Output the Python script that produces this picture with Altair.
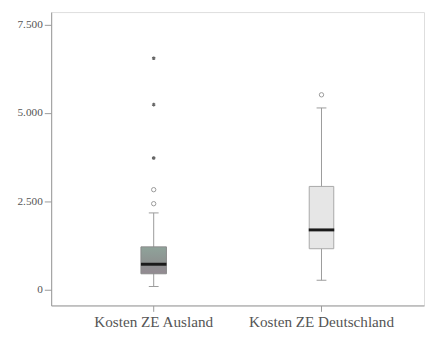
import altair as alt
import pandas as pd

categories = ["Kosten ZE Ausland", "Kosten ZE Deutschland"]
whisker_low = [83, 261]
q1 = [444, 1153]
median = [714, 1686]
q3 = [1206, 2917]
whisker_high = [2167, 5139]
outlier_cat = ["Kosten ZE Ausland", "Kosten ZE Ausland", "Kosten ZE Deutschland"]
outlier_val = [2825, 2428, 5511]
extreme_cat = ["Kosten ZE Ausland", "Kosten ZE Ausland", "Kosten ZE Ausland"]
extreme_val = [6547, 5233, 3722]
y_ticks = [0, 2500, 5000, 7500]

box = pd.DataFrame({"cat": categories, "lo": whisker_low, "q1": q1, "med": median,
                    "q3": q3, "hi": whisker_high})
out = pd.DataFrame({"cat": outlier_cat, "v": outlier_val})
ext = pd.DataFrame({"cat": extreme_cat, "v": extreme_val})

FONT = "Liberation Serif"
xs = alt.X("cat:N", sort=categories, title=None,
           scale=alt.Scale(paddingInner=0, paddingOuter=0.111),
           axis=alt.Axis(labelAngle=0, labelFontSize=15.5, labelFont=FONT, labelColor="#555",
                         tickSize=6, tickColor="#999", domainColor="#999", labelPadding=3))
ys = alt.Y("lo:Q", title=None,
           scale=alt.Scale(domain=[-453, 7853], nice=False, zero=False),
           axis=alt.Axis(values=y_ticks, grid=False, labelFontSize=11.5, labelFont=FONT,
                         labelColor="#555", tickSize=7, tickColor="#999", domainColor="#999",
                         labelPadding=2,
                         labelExpr="replace(format(datum.value, ',d'), ',', '.')"))

base = alt.Chart(box)
whisk = base.mark_rule(color="#9a9a9a", strokeWidth=1).encode(x=xs, y=ys, y2="hi:Q")
caps_lo = base.mark_tick(color="#9a9a9a", size=10, thickness=1, opacity=1).encode(x=xs, y="lo:Q")
caps_hi = base.mark_tick(color="#9a9a9a", size=10, thickness=1, opacity=1).encode(x=xs, y="hi:Q")
grad = alt.Gradient(gradient="linear", x1=0, y1=0, x2=0, y2=1,
                    stops=[alt.GradientStop(color="#8fa39a", offset=0),
                           alt.GradientStop(color="#8d9190", offset=0.6),
                           alt.GradientStop(color="#938a92", offset=1)])
box1 = base.transform_filter(alt.datum.cat == categories[0]).mark_bar(
    size=26, color=grad, stroke="#8a8a8a", strokeWidth=1).encode(x=xs, y="q1:Q", y2="q3:Q")
box2 = base.transform_filter(alt.datum.cat == categories[1]).mark_bar(
    size=25, color="#e6e6e6", stroke="#a8a8a8", strokeWidth=1).encode(x=xs, y="q1:Q", y2="q3:Q")
med = base.mark_tick(color="#1a1a1a", size=26, thickness=3, opacity=1).encode(x=xs, y="med:Q")
outs = alt.Chart(out).mark_point(shape="circle", size=20, filled=False, color="#999",
                                 strokeWidth=1, opacity=1).encode(x=xs, y="v:Q")
exts = alt.Chart(ext).mark_point(
    shape="M0,-1L0,1M-0.87,-0.5L0.87,0.5M-0.87,0.5L0.87,-0.5", size=14, filled=False,
    color="#666", strokeWidth=1.3, opacity=1).encode(x=xs, y="v:Q")

chart = alt.layer(whisk, caps_lo, caps_hi, box1, box2, med, outs, exts).properties(
    width=380, height=299,
    autosize=alt.AutoSizeParams(type="none"),
    padding={"left": 44, "top": 1, "right": 1, "bottom": 30},
).configure_view(stroke="#a0a0a0", strokeWidth=1).configure(
    background="white", font=FONT
).configure_axis(labelFont=FONT)

chart.save("out.html", embed_options={"renderer": "svg", "actions": False})
